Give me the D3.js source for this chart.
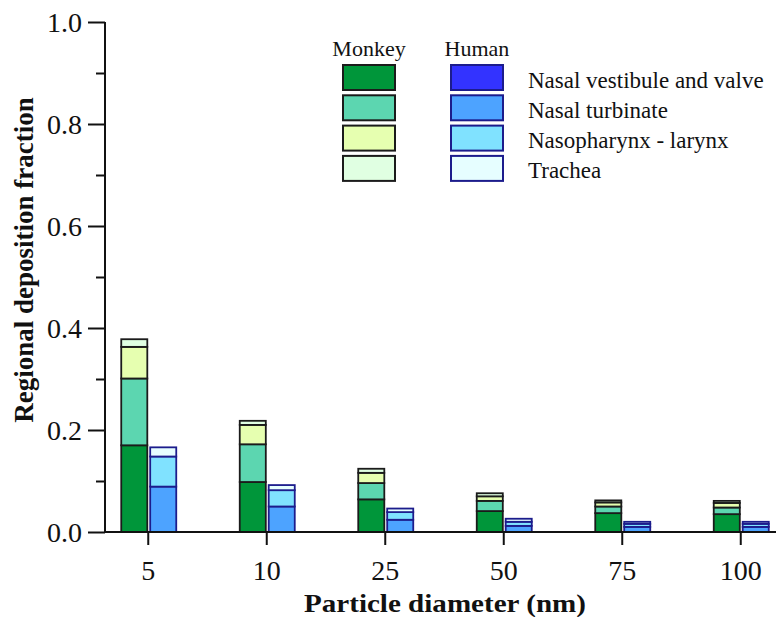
<!DOCTYPE html>
<html>
<head>
<meta charset="utf-8">
<script src="https://cdn.jsdelivr.net/npm/d3@7"></script>
<style>
  html, body { margin: 0; padding: 0; background: #fff; }
  svg { display: block; }
  text { font-family: "Liberation Serif", "Times New Roman", serif; fill: #111; }
</style>
</head>
<body>
<svg id="chart" width="776" height="617"></svg>
<script>
// Particle size categories (nm)
const categories = ["5", "10", "25", "50", "75", "100"];
const regions = ["Nasal vestibule and valve", "Nasal turbinate", "Nasopharynx - larynx", "Trachea"];
const species = ["Monkey", "Human"];

// Monkey regional deposition fractions
const monkeyVestibule   = [0.170, 0.098, 0.064, 0.041, 0.037, 0.035];
const monkeyTurbinate   = [0.131, 0.074, 0.032, 0.020, 0.013, 0.013];
const monkeyNasopharynx = [0.062, 0.038, 0.020, 0.009, 0.008, 0.009];
const monkeyTrachea     = [0.015, 0.008, 0.008, 0.006, 0.004, 0.004];

// Human regional deposition fractions
const humanVestibule    = [0.000, 0.000, 0.000, 0.000, 0.000, 0.000];
const humanTurbinate    = [0.089, 0.050, 0.024, 0.012, 0.010, 0.010];
const humanNasopharynx  = [0.059, 0.032, 0.015, 0.008, 0.006, 0.006];
const humanTrachea      = [0.018, 0.010, 0.007, 0.006, 0.004, 0.004];

const yMajorTicks = [0, 0.2, 0.4, 0.6, 0.8, 1.0];
const yMinorTicks = [0.1, 0.3, 0.5, 0.7, 0.9];

const monkeyColors = ["#00963a", "#5cd6b0", "#e6ffb0", "#e0ffe2"];
const humanColors  = ["#3333ff", "#4da3ff", "#80e2ff", "#e6feff"];
const monkeyStroke = "#1b1b1b";
const humanStroke  = "#1c1c8c";

const seriesBySpecies = {
  Monkey: [monkeyVestibule, monkeyTurbinate, monkeyNasopharynx, monkeyTrachea],
  Human:  [humanVestibule, humanTurbinate, humanNasopharynx, humanTrachea]
};

const svg = d3.select("#chart");

const x = d3.scaleBand().domain(categories).range([89, 800]).padding(0);
const xSub = d3.scaleBand().domain(species).range([-27, 28]).paddingInner(0.1);
const y = d3.scaleLinear().domain([0, 1]).range([532, 22]);

// Stacked bars
species.forEach(sp => {
  const rows = categories.map((c, i) => {
    const r = { category: c };
    regions.forEach((reg, k) => { r[reg] = seriesBySpecies[sp][k][i]; });
    return r;
  });
  const stacked = d3.stack().keys(regions)(rows);
  const colors = sp === "Monkey" ? monkeyColors : humanColors;
  const stroke = sp === "Monkey" ? monkeyStroke : humanStroke;
  const g = svg.append("g").attr("class", "bars-" + sp);
  stacked.forEach((layer, k) => {
    g.selectAll(null)
      .data(layer)
      .join("rect")
      .attr("x", d => x(d.data.category) + x.bandwidth() / 2 + xSub(sp))
      .attr("width", xSub.bandwidth())
      .attr("y", d => y(d[1]))
      .attr("height", d => y(d[0]) - y(d[1]))
      .attr("fill", colors[k])
      .attr("stroke", stroke)
      .attr("stroke-width", 1.8);
  });
});

// Y axis
const yAxis = svg.append("g")
  .attr("transform", "translate(105,0)")
  .call(d3.axisLeft(y).tickValues(yMajorTicks).tickFormat(d3.format(".1f")).tickSize(17).tickPadding(6));
yAxis.select(".domain").remove();
yAxis.selectAll(".tick line").attr("stroke", "#111").attr("stroke-width", 2);
yAxis.selectAll(".tick text").style("font-size", "28px").attr("dy", "0.34em");

const yMinor = svg.append("g")
  .attr("transform", "translate(105,0)")
  .call(d3.axisLeft(y).tickValues(yMinorTicks).tickFormat("").tickSize(9));
yMinor.select(".domain").remove();
yMinor.selectAll(".tick line").attr("stroke", "#111").attr("stroke-width", 2);

// X axis
const xAxis = svg.append("g")
  .attr("transform", "translate(0,532)")
  .call(d3.axisBottom(x).tickSize(13).tickPadding(15));
xAxis.select(".domain").remove();
xAxis.selectAll(".tick line").attr("stroke", "#111").attr("stroke-width", 2);
xAxis.selectAll(".tick text").style("font-size", "28px");

// Axis lines
svg.append("line").attr("x1", 105).attr("x2", 105).attr("y1", y(1)).attr("y2", y(0) + 1)
  .attr("stroke", "#111").attr("stroke-width", 2);
svg.append("line").attr("x1", 104).attr("x2", 776).attr("y1", y(0)).attr("y2", y(0))
  .attr("stroke", "#111").attr("stroke-width", 2);

// Axis titles
svg.append("text")
  .attr("transform", "translate(33,260) rotate(-90)")
  .attr("text-anchor", "middle")
  .style("font-size", "27px").style("font-weight", "bold")
  .text("Regional deposition fraction");

svg.append("text")
  .attr("x", 445).attr("y", 612)
  .attr("text-anchor", "middle")
  .attr("textLength", 282).attr("lengthAdjust", "spacingAndGlyphs")
  .style("font-size", "26px").style("font-weight", "bold")
  .text("Particle diameter (nm)");

// Legend
const legend = svg.append("g").attr("class", "legend");
const legendX = { Monkey: 343, Human: 451 };
const swW = 52, swH = 25, rowStep = 30.3, rowTop = 65;
species.forEach(sp => {
  legend.append("text")
    .attr("x", legendX[sp] + swW / 2).attr("y", 56)
    .attr("text-anchor", "middle")
    .style("font-size", "22px")
    .text(sp);
  const colors = sp === "Monkey" ? monkeyColors : humanColors;
  const stroke = sp === "Monkey" ? monkeyStroke : humanStroke;
  regions.forEach((reg, k) => {
    legend.append("rect")
      .attr("x", legendX[sp]).attr("y", rowTop + k * rowStep)
      .attr("width", swW).attr("height", swH)
      .attr("fill", colors[k]).attr("stroke", stroke).attr("stroke-width", 2);
  });
});
regions.forEach((reg, k) => {
  legend.append("text")
    .attr("x", 528).attr("y", rowTop + k * rowStep + swH / 2 + 10)
    .style("font-size", "23px")
    .text(reg);
});
</script>
</body>
</html>
